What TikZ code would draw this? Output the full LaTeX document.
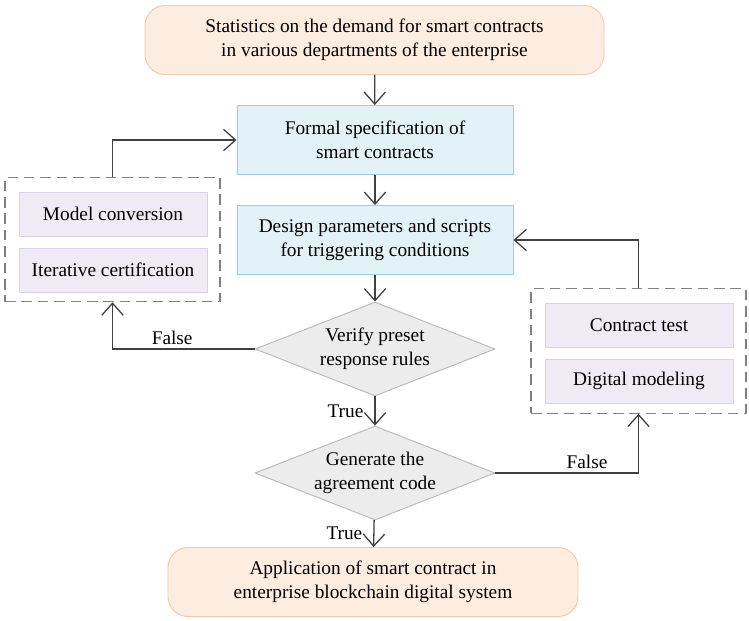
\documentclass[tikz,border=0pt]{standalone}
\usepackage{fontspec}
\setmainfont{Liberation Serif}
\usetikzlibrary{shapes.geometric,arrows.meta}

\definecolor{peach}{HTML}{FDEDE1}
\definecolor{peachline}{HTML}{F6C9A5}
\definecolor{ice}{HTML}{E3F2F6}
\definecolor{iceline}{HTML}{95D1E2}
\definecolor{lilac}{HTML}{EEEBF4}
\definecolor{lilacline}{HTML}{D8D1E8}
\definecolor{arrowgray}{HTML}{404040}

\begin{document}
\begin{tikzpicture}[x=0.03cm, y=-0.03cm, font=\fontsize{16.5}{20.5}\selectfont,
                    flow/.style={draw=arrowgray, line width=1.1pt,
                                 -{Straight Barb[length=3.6mm,width=6.4mm,line width=1.1pt]}},
                    endbox/.style={rectangle,rounded corners=0.6cm,draw=peachline,fill=peach,
                                   align=center,line width=0.8pt},
                    stepbox/.style={rectangle,draw=iceline,fill=ice,align=center,
                                    minimum width=8.28cm,minimum height=2.07cm,line width=0.8pt},
                    check/.style={diamond,aspect=2.55,draw=gray!55,fill=gray!15,align=center,
                                  inner sep=0pt,minimum width=7.2cm,minimum height=2.82cm,
                                  line width=0.8pt},
                    group/.style={rectangle,draw=gray,dashed,dash pattern=on 9pt off 5pt,
                                  line width=1pt,minimum width=6.45cm,minimum height=3.73cm},
                    sub/.style={rectangle,draw=lilacline,fill=lilac,line width=0.6pt,
                                minimum width=5.64cm,minimum height=1.32cm}]

  \useasboundingbox (0,0) rectangle (749,621);

  \node[endbox,minimum width=13.77cm,minimum height=2.07cm] (demand) at (374.5,40)
        {Statistics on the demand for smart contracts\\in various departments of the enterprise};
  \node[stepbox] (spec) at (375,140) {Formal specification of\\smart contracts};
  \node[stepbox] (design) at (375,240) {Design parameters and scripts\\for triggering conditions};
  \node[check] (verify) at (375,349) {Verify preset\\response rules};
  \node[check] (generate) at (375,473) {Generate the\\agreement code};
  \node[endbox,minimum width=12.3cm,minimum height=2.07cm] (apply) at (373,582)
        {Application of smart contract in\\enterprise blockchain digital system};

  % left loop
  \node[group] (leftgroup) at (112.5,239.5) {};
  \node[sub] (model) at (113,214) {Model conversion};
  \node[sub] (iter) at (113,270) {Iterative certification};

  % right loop
  \node[group] (rightgroup) at (638.5,351) {};
  \node[sub] (test) at (639,325) {Contract test};
  \node[sub] (digital) at (639,381) {Digital modeling};

  \path[flow]
    (demand) edge (spec)
    (spec) edge (design)
    (design) edge (verify)
    (verify) edge node[left, xshift=-6pt] {True} (generate)
    (generate) edge node[left, xshift=-6pt] {True} (apply);

  \draw[flow] (verify.west) -| node[above, pos=0.29] {False} (leftgroup.south);
  \draw[flow] (leftgroup.north) |- (spec.west);
  \draw[flow] (generate.east) -| node[above, pos=0.32] {False} (rightgroup.south);
  \draw[flow] (rightgroup.north) |- (design.east);

\end{tikzpicture}
\end{document}
